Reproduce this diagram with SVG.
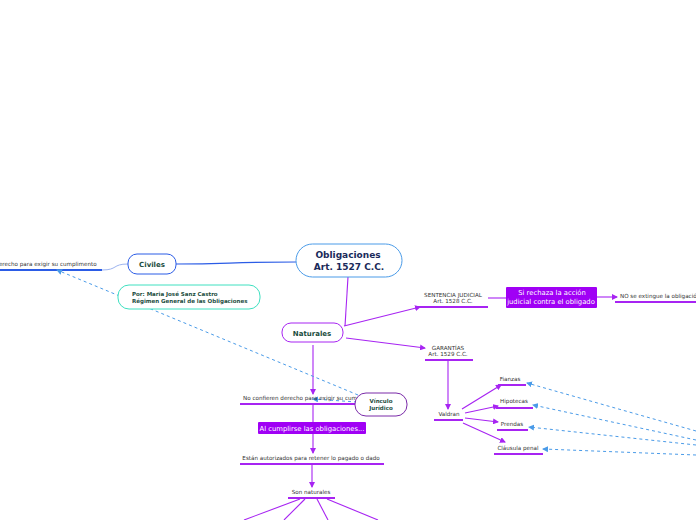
<svg xmlns="http://www.w3.org/2000/svg" width="696" height="520" viewBox="0 0 696 520">
<defs>
<style>
.t{font-family:"DejaVu Sans","Liberation Sans",sans-serif;font-size:5.6px;fill:#333;text-anchor:middle}
.b{font-family:"DejaVu Sans","Liberation Sans",sans-serif;font-weight:bold;fill:#1b4d3e;text-anchor:middle}
.w{font-family:"DejaVu Sans","Liberation Sans",sans-serif;font-size:6.8px;fill:#fff;text-anchor:middle}
.p{stroke:#a724f2;stroke-width:1.1;fill:none}
.u{stroke:#a724f2;stroke-width:2;fill:none}
.d{stroke:#4a9be8;stroke-width:1;stroke-dasharray:3,3;fill:none}
</style>
<marker id="ap" markerWidth="6" markerHeight="6" refX="5" refY="3" orient="auto" markerUnits="userSpaceOnUse"><path d="M0,0 L6,3 L0,6 Z" fill="#a724f2"/></marker>
<marker id="ab" markerWidth="6" markerHeight="6" refX="5" refY="3" orient="auto" markerUnits="userSpaceOnUse"><path d="M0,0 L6,3 L0,6 Z" fill="#4a9be8"/></marker>
</defs>
<g id="connectors">
<path d="M176,264 C230,264 230,262 296,262" stroke="#2b5ce6" stroke-width="1.2" fill="none"/>
<path d="M102,270 C118,270 112,264 128,264" stroke="#9db4f0" stroke-width="1" fill="none"/>
<line x1="0" y1="270" x2="102" y2="270" stroke="#2b5ce6" stroke-width="2"/>
<path class="p" d="M348,277 L345,326"/>
<path class="p" d="M344,326 L420,307" marker-end="url(#ap)"/>
<path class="p" d="M346,338 L425,348" marker-end="url(#ap)"/>
<line class="u" x1="418" y1="307" x2="488" y2="307"/>
<path class="p" d="M488,298 L506,298"/>
<path class="p" d="M597,297 L617,297" marker-end="url(#ap)"/>
<line class="u" x1="615" y1="302" x2="696" y2="302"/>
<line class="u" x1="425" y1="360" x2="473" y2="360"/>
<path class="p" d="M448,361 L448,409" marker-end="url(#ap)"/>
<line class="u" x1="434" y1="420" x2="463" y2="420"/>
<path class="p" d="M462,409 L501,385" marker-end="url(#ap)"/>
<path class="p" d="M465,413 L498,406" marker-end="url(#ap)"/>
<path class="p" d="M465,418 L498,422" marker-end="url(#ap)"/>
<path class="p" d="M463,423 L505,442" marker-end="url(#ap)"/>
<line class="u" x1="498" y1="385" x2="526" y2="385"/>
<line class="u" x1="496" y1="408" x2="533" y2="408"/>
<line class="u" x1="497" y1="430" x2="528" y2="430"/>
<line class="u" x1="494" y1="454" x2="543" y2="454"/>
<path class="d" d="M696,431 L527,383" marker-end="url(#ab)"/>
<path class="d" d="M696,440 L533,405" marker-end="url(#ab)"/>
<path class="d" d="M696,445 L529,427" marker-end="url(#ab)"/>
<path class="d" d="M696,455 L543,449" marker-end="url(#ab)"/>
<path class="p" d="M313,345 L313,394" marker-end="url(#ap)"/>
<line class="u" x1="240" y1="404" x2="360" y2="404"/>
<path class="d" d="M358,395 L57,270" marker-end="url(#ab)"/>
<path class="d" d="M357,402 L313,399" marker-end="url(#ab)"/>
<path class="p" d="M313,405 L313,422"/>
<path class="p" d="M313,434 L313,453" marker-end="url(#ap)"/>
<line class="u" x1="240" y1="464" x2="384" y2="464"/>
<path class="p" d="M312,465 L312,487" marker-end="url(#ap)"/>
<line class="u" x1="288" y1="498" x2="335" y2="498"/>
<path class="p" d="M300,499 L244,520"/>
<path class="p" d="M305,499 L284,520"/>
<path class="p" d="M317,499 L328,520"/>
<path class="p" d="M327,499 L378,520"/>
</g>
<g id="obligaciones">
<rect x="296" y="244" width="106" height="33" rx="16.5" fill="#fff" stroke="#4a9be8" stroke-width="1"/>
<text class="b" x="348" y="258" style="font-size:9px;fill:#1a2a5a">Obligaciones</text>
<text class="b" x="349" y="270" style="font-size:9px;fill:#1a2a5a">Art. 1527 C.C.</text>
</g>
<g id="civiles">
<rect x="128" y="254" width="48" height="20" rx="9" fill="#fff" stroke="#2b5ce6" stroke-width="1"/>
<text class="b" x="152" y="267" style="font-size:7px">Civiles</text>
</g>
<g id="civiles-hijo">
<text class="t" x="46" y="266">derecho para exigir su cumplimento</text>
</g>
<g id="autor">
<rect x="118" y="285" width="142" height="24" rx="11" fill="#fff" stroke="#3ee0c0" stroke-width="1"/>
<text class="b" x="132" y="296" style="font-size:5.5px;text-anchor:start">Por: Maria José Sanz Castro</text>
<text class="b" x="132" y="303" style="font-size:5.5px;text-anchor:start">Régimen General de las Obligaciones</text>
</g>
<g id="naturales">
<rect x="282" y="323" width="61" height="19" rx="9" fill="#fff" stroke="#a724f2" stroke-width="1"/>
<text class="b" x="312" y="335.5" style="font-size:7px">Naturales</text>
</g>
<g id="sentencia">
<text class="t" x="453" y="297">SENTENCIA JUDICIAL</text>
<text class="t" x="453" y="303">Art. 1528 C.C.</text>
</g>
<g id="rechaza">
<rect x="506" y="287" width="91" height="21" rx="1" fill="#a000f5"/>
<text class="w" x="552" y="295">Si rechaza la acción</text>
<text class="w" x="551" y="304">judicial contra el obligado</text>
</g>
<g id="no-extingue">
<text class="t" x="620" y="298" style="text-anchor:start">NO se extingue la obligación</text>
</g>
<g id="garantias">
<text class="t" x="448" y="350">GARANTÍAS</text>
<text class="t" x="448" y="356">Art. 1529 C.C.</text>
</g>
<g id="valdran"><text class="t" x="449" y="416">Valdran</text></g>
<g id="fianzas"><text class="t" x="510" y="381">Fianzas</text></g>
<g id="hipotecas"><text class="t" x="514" y="403">Hipotecas</text></g>
<g id="prendas"><text class="t" x="512" y="426">Prendas</text></g>
<g id="clausula"><text class="t" x="518" y="450">Cláusula penal</text></g>
<g id="no-confieren">
<text class="t" x="243" y="400" style="text-anchor:start">No confieren derecho para exigir su cum</text>
</g>
<g id="vinculo">
<rect x="355" y="393" width="52" height="23" rx="11" fill="#fff" stroke="#7a2aa8" stroke-width="1"/>
<text class="b" x="381" y="403" style="font-size:5.5px">Vínculo</text>
<text class="b" x="381" y="410" style="font-size:5.5px">Jurídico</text>
</g>
<g id="cumplirse">
<rect x="258" y="422" width="108" height="12" rx="1" fill="#a000f5"/>
<text class="w" x="312" y="430.5">Al cumplirse las obligaciones...</text>
</g>
<g id="autorizados"><text class="t" x="311" y="460">Están autorizados para retener lo pagado o dado</text></g>
<g id="son-naturales"><text class="t" x="311" y="494">Son naturales</text></g>
</svg>
